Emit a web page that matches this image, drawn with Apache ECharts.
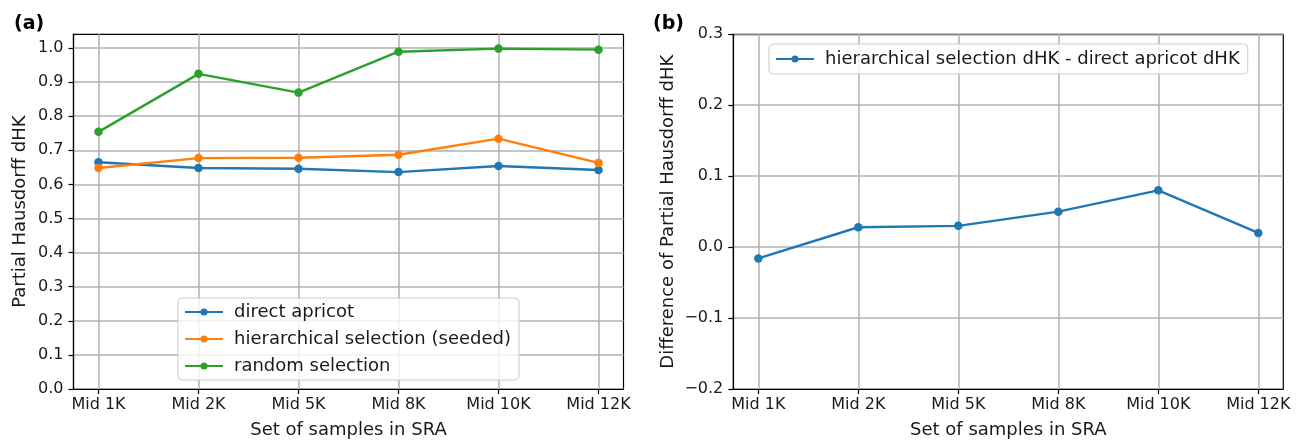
<!DOCTYPE html>
<html>
<head>
<meta charset="utf-8">
<script src="https://cdn.jsdelivr.net/npm/echarts@6/dist/echarts.min.js"></script>
<style>
html,body{margin:0;padding:0;background:#fff;}
#chart{width:1303px;height:444px;}
</style>
</head>
<body>
<div id="chart"></div>
<script>
// ---- data ----
const categories = ["Mid 1K", "Mid 2K", "Mid 5K", "Mid 8K", "Mid 10K", "Mid 12K"];
const directApricot = [0.665, 0.648, 0.646, 0.636, 0.654, 0.642];
const hierarchicalSeeded = [0.648, 0.677, 0.678, 0.687, 0.734, 0.663];
const randomSelection = [0.754, 0.924, 0.869, 0.989, 0.998, 0.995];
const difference = [-0.016, 0.028, 0.030, 0.050, 0.080, 0.020];
const yTicksA = [0, 0.1, 0.2, 0.3, 0.4, 0.5, 0.6, 0.7, 0.8, 0.9, 1.0];
const yTicksB = [-0.2, -0.1, 0.0, 0.1, 0.2, 0.3];
const xTickIdx = [0, 1, 2, 3, 4, 5];

const FONT = "DejaVu Sans";
const TXT = "#1a1a1a";
const GRIDC = "#b0b0b0";
const COLORS = ["#1f77b4", "#ff7f0e", "#2ca02c"];

const toPairs = arr => arr.map((v, i) => [i, v]);
const fmtNum = v => v.toFixed(1).replace("-", "\u2212");

function xAxisFor(gridIndex) {
  return {
    type: "value", gridIndex, min: -0.25, max: 5.25,
    name: "Set of samples in SRA", nameLocation: "middle", nameGap: 32,
    nameTextStyle: {fontFamily: FONT, fontSize: 18, color: TXT},
    axisLine: {show: true, onZero: false, lineStyle: {color: "#000", width: 1.2}},
    axisTick: {show: true, length: 5, customValues: xTickIdx, lineStyle: {color: "#000", width: 1.2}},
    axisLabel: {customValues: xTickIdx, margin: 8, fontFamily: FONT, fontSize: 16, color: TXT,
      formatter: v => categories[Math.round(v)] || ""},
    splitLine: {show: true, lineStyle: {color: GRIDC, width: 1.5}}
  };
}

function yAxisFor(gridIndex, min, max, ticks, name, gap) {
  return {
    type: "value", gridIndex, min, max,
    name, nameLocation: "middle", nameGap: gap,
    nameTextStyle: {fontFamily: FONT, fontSize: 18, color: TXT},
    axisLine: {show: true, onZero: false, lineStyle: {color: "#000", width: 1.2}},
    axisTick: {show: true, length: 5, customValues: ticks, lineStyle: {color: "#000", width: 1.2}},
    axisLabel: {customValues: ticks, margin: 10, fontFamily: FONT, fontSize: 16, color: TXT,
      formatter: v => fmtNum(v)},
    splitLine: {show: true, lineStyle: {color: GRIDC, width: 1.5}}
  };
}

function lineSeries(name, data, color, xi, yi) {
  return {
    type: "line", name, xAxisIndex: xi, yAxisIndex: yi,
    data: toPairs(data),
    symbol: "circle", symbolSize: 8.5, showSymbol: true,
    lineStyle: {color, width: 2.4},
    itemStyle: {color},
    animation: false
  };
}

const chart = echarts.init(document.getElementById("chart"), null, {renderer: "canvas"});
chart.setOption({
  backgroundColor: "#fff",
  animation: false,
  title: [
    {text: "(a)", left: 9, top: 10, textStyle: {fontFamily: FONT, fontSize: 19, fontWeight: "bold", color: "#000"}},
    {text: "(b)", left: 648, top: 10, textStyle: {fontFamily: FONT, fontSize: 19, fontWeight: "bold", color: "#000"}}
  ],
  grid: [
    {left: 73.5, right: 679.5, top: 34.3, bottom: 52.3, show: true, borderColor: "#000", borderWidth: 1.2, backgroundColor: "#fff"},
    {left: 733.3, right: 19.7, top: 34.3, bottom: 52.3, show: true, borderColor: "#000", borderWidth: 1.2, backgroundColor: "#fff"}
  ],
  xAxis: [xAxisFor(0), xAxisFor(1)],
  yAxis: [
    yAxisFor(0, 0, 1.04, yTicksA, "Partial Hausdorff dHK", 44),
    yAxisFor(1, -0.2, 0.3, yTicksB, "Difference of Partial Hausdorff dHK", 56)
  ],
  legend: [
    {
      data: ["direct apricot", "hierarchical selection (seeded)", "random selection"],
      orient: "vertical", left: 178, top: 298,
      itemWidth: 38, itemHeight: 9, itemGap: 9,
      padding: [5, 8, 5, 6],
      borderColor: "#cccccc", borderWidth: 1, borderRadius: 4,
      backgroundColor: "rgba(255,255,255,0.8)",
      textStyle: {fontFamily: FONT, fontSize: 18, color: TXT, padding: [0, 0, 0, 6]}
    },
    {
      data: ["hierarchical selection dHK - direct apricot dHK"],
      orient: "vertical", left: 769, top: 44,
      itemWidth: 38, itemHeight: 9,
      padding: [6, 8, 6, 6],
      borderColor: "#cccccc", borderWidth: 1, borderRadius: 4,
      backgroundColor: "rgba(255,255,255,0.8)",
      textStyle: {fontFamily: FONT, fontSize: 18, color: TXT, padding: [0, 0, 0, 6]}
    }
  ],
  series: [
    lineSeries("direct apricot", directApricot, COLORS[0], 0, 0),
    lineSeries("hierarchical selection (seeded)", hierarchicalSeeded, COLORS[1], 0, 0),
    lineSeries("random selection", randomSelection, COLORS[2], 0, 0),
    lineSeries("hierarchical selection dHK - direct apricot dHK", difference, COLORS[0], 1, 1)
  ]
});
</script>
</body>
</html>
